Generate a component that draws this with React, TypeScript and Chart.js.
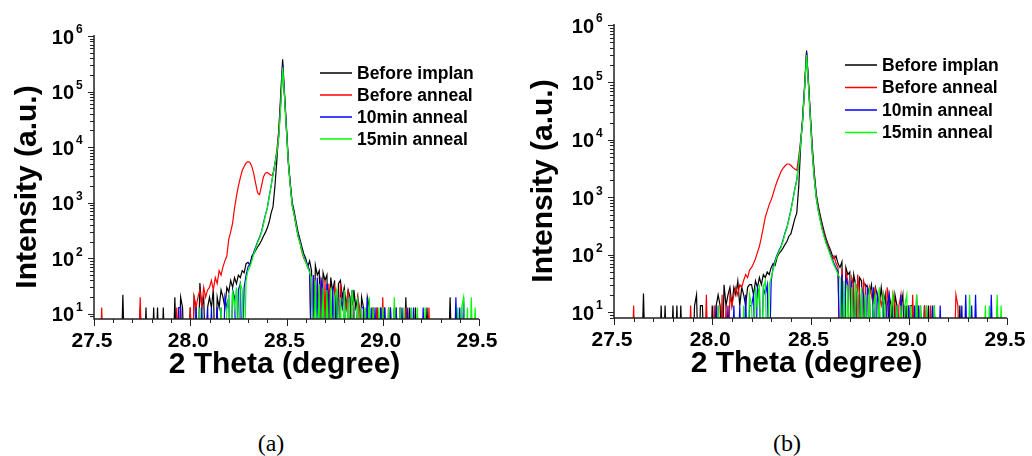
import React, { useEffect, useRef } from "react";
import { Chart, registerables } from "chart.js";

Chart.register(...registerables);

// 2-theta sampling grid (degree)
const THETA = [
  27.50, 27.51, 27.52, 27.53, 27.54, 27.55, 27.56, 27.57, 27.58, 27.59,
  27.60, 27.61, 27.62, 27.63, 27.64, 27.65, 27.66, 27.67, 27.68, 27.69,
  27.70, 27.71, 27.72, 27.73, 27.74, 27.75, 27.76, 27.77, 27.78, 27.79,
  27.80, 27.81, 27.82, 27.83, 27.84, 27.85, 27.86, 27.87, 27.88, 27.89,
  27.90, 27.91, 27.92, 27.93, 27.94, 27.95, 27.96, 27.97, 27.98, 27.99,
  28.00, 28.01, 28.02, 28.03, 28.04, 28.05, 28.06, 28.07, 28.08, 28.09,
  28.10, 28.11, 28.12, 28.13, 28.14, 28.15, 28.16, 28.17, 28.18, 28.19,
  28.20, 28.21, 28.22, 28.23, 28.24, 28.25, 28.26, 28.27, 28.28, 28.29,
  28.30, 28.31, 28.32, 28.33, 28.34, 28.35, 28.36, 28.37, 28.38, 28.39,
  28.40, 28.41, 28.42, 28.43, 28.44, 28.45, 28.46, 28.47, 28.48, 28.49,
  28.50, 28.51, 28.52, 28.53, 28.54, 28.55, 28.56, 28.57, 28.58, 28.59,
  28.60, 28.61, 28.62, 28.63, 28.64, 28.65, 28.66, 28.67, 28.68, 28.69,
  28.70, 28.71, 28.72, 28.73, 28.74, 28.75, 28.76, 28.77, 28.78, 28.79,
  28.80, 28.81, 28.82, 28.83, 28.84, 28.85, 28.86, 28.87, 28.88, 28.89,
  28.90, 28.91, 28.92, 28.93, 28.94, 28.95, 28.96, 28.97, 28.98, 28.99,
  29.00, 29.01, 29.02, 29.03, 29.04, 29.05, 29.06, 29.07, 29.08, 29.09,
  29.10, 29.11, 29.12, 29.13, 29.14, 29.15, 29.16, 29.17, 29.18, 29.19,
  29.20, 29.21, 29.22, 29.23, 29.24, 29.25, 29.26, 29.27, 29.28, 29.29,
  29.30, 29.31, 29.32, 29.33, 29.34, 29.35, 29.36, 29.37, 29.38, 29.39,
  29.40, 29.41, 29.42, 29.43, 29.44, 29.45, 29.46, 29.47, 29.48, 29.49,
  29.50,
];

// ---------- Panel (a) ----------
const A_BEFORE_IMPLAN = [
  1, 1, 1, 1, 1, 1, 1, 1, 1, 1,
  1, 1, 1, 1, 1, 22, 1, 1, 1, 1,
  1, 1, 1, 1, 13, 1, 1, 13, 1, 1,
  1, 13, 1, 13, 1, 1, 13, 1, 1, 1,
  1, 1, 20, 1, 1, 20, 13, 1, 1, 1,
  13, 1, 20, 13, 1, 36, 13, 20, 1, 13,
  20, 13, 28, 1, 20, 13, 27, 20, 13, 30,
  25, 40, 30, 45, 35, 50, 45, 60, 55, 80,
  85, 75, 110, 120, 140, 160, 180, 210, 250, 290,
  350, 450, 650, 850, 2000, 5900, 20000, 90000, 380000, 90000,
  22000, 5500, 2200, 1000, 700, 450, 300, 220, 160, 120,
  100, 70, 90, 60, 1, 75, 50, 60, 1, 55,
  40, 50, 1, 45, 25, 40, 1, 35, 40, 20,
  30, 13, 27, 20, 1, 27, 13, 20, 1, 20,
  13, 1, 20, 13, 1, 13, 1, 13, 1, 13,
  1, 13, 1, 1, 13, 1, 13, 1, 1, 13,
  1, 1, 20, 1, 13, 1, 1, 13, 1, 1,
  1, 1, 1, 13, 1, 1, 1, 1, 1, 1,
  1, 1, 1, 1, 1, 20, 1, 1, 1, 1,
  1, 1, 1, 1, 1, 1, 1, 1, 1, 1,
  1,
];
const A_BEFORE_ANNEAL = [
  1, 1, 1, 1, 13, 1, 1, 1, 1, 1,
  1, 1, 1, 1, 1, 1, 1, 1, 1, 1,
  1, 1, 1, 1, 20, 1, 1, 1, 1, 1,
  1, 1, 1, 1, 1, 1, 1, 1, 1, 1,
  1, 1, 1, 13, 1, 13, 1, 1, 1, 1,
  13, 1, 20, 13, 20, 27, 13, 30, 20, 27,
  30, 40, 27, 45, 35, 60, 50, 70, 90, 110,
  220, 300, 430, 800, 1300, 2000, 2800, 3800, 4500, 5200,
  5500, 5300, 4500, 3300, 2200, 1500, 1400, 2000, 2900, 3400,
  3500, 3300, 3100, 3200, 5000, 9000, 20000, 70000, 300000, 80000,
  20000, 5000, 2000, 900, 600, 380, 250, 190, 130, 100,
  85, 70, 60, 1, 50, 1, 40, 13, 45, 1,
  40, 1, 35, 13, 1, 30, 20, 1, 35, 13,
  20, 13, 27, 1, 20, 13, 1, 20, 13, 1,
  13, 1, 13, 1, 1, 13, 1, 13, 1, 1,
  20, 1, 1, 13, 1, 1, 1, 13, 1, 13,
  1, 1, 13, 1, 1, 1, 1, 1, 1, 1,
  1, 1, 1, 1, 13, 1, 1, 1, 1, 1,
  1, 1, 1, 1, 1, 1, 1, 1, 1, 1,
  1, 1, 1, 1, 1, 1, 1, 1, 1, 1,
  1,
];
const A_10MIN = [
  1, 1, 1, 1, 1, 1, 1, 1, 1, 1,
  1, 1, 1, 1, 1, 1, 1, 1, 1, 1,
  1, 1, 1, 1, 1, 1, 1, 1, 1, 1,
  1, 1, 1, 1, 1, 1, 1, 1, 1, 1,
  1, 1, 1, 1, 13, 13, 1, 1, 1, 1,
  1, 1, 1, 13, 1, 1, 13, 1, 1, 13,
  1, 13, 1, 1, 13, 1, 13, 1, 20, 13,
  20, 1, 27, 20, 1, 27, 35, 1, 30, 50,
  70, 80, 100, 130, 160, 200, 240, 300, 430, 600,
  800, 1300, 2000, 3300, 5000, 8000, 16000, 60000, 300000, 80000,
  20000, 5000, 2000, 900, 620, 400, 260, 200, 140, 110,
  90, 75, 60, 1, 50, 1, 45, 1, 40, 27,
  1, 35, 20, 1, 30, 1, 27, 1, 20, 13,
  27, 1, 20, 1, 27, 13, 1, 20, 1, 13,
  13, 1, 20, 1, 13, 1, 13, 1, 1, 13,
  1, 13, 1, 1, 13, 1, 1, 13, 1, 1,
  13, 1, 1, 13, 1, 1, 13, 1, 1, 1,
  1, 13, 1, 1, 1, 1, 1, 1, 1, 1,
  1, 1, 1, 1, 1, 1, 1, 1, 20, 1,
  13, 1, 20, 1, 1, 1, 1, 1, 1, 1,
  1,
];
const A_15MIN = [
  1, 1, 1, 1, 1, 1, 1, 1, 1, 1,
  1, 1, 1, 1, 1, 1, 1, 1, 1, 1,
  1, 1, 1, 1, 1, 1, 1, 1, 1, 1,
  1, 1, 1, 1, 1, 1, 1, 1, 1, 1,
  1, 1, 1, 1, 1, 1, 1, 1, 1, 1,
  1, 1, 1, 1, 1, 13, 1, 1, 1, 1,
  1, 1, 1, 1, 1, 1, 13, 1, 1, 13,
  20, 1, 27, 13, 30, 1, 35, 27, 1, 40,
  60, 70, 90, 120, 150, 190, 230, 290, 400, 580,
  780, 1250, 2000, 3200, 5000, 8000, 15000, 55000, 270000, 75000,
  19000, 5000, 1900, 880, 600, 390, 250, 190, 135, 105,
  85, 70, 55, 45, 1, 40, 1, 35, 1, 30,
  1, 27, 1, 30, 1, 20, 27, 1, 20, 1,
  27, 1, 20, 1, 27, 13, 1, 20, 1, 13,
  1, 13, 1, 20, 1, 13, 1, 1, 13, 1,
  13, 1, 1, 13, 1, 1, 20, 1, 1, 13,
  1, 13, 1, 1, 1, 13, 1, 1, 13, 1,
  1, 1, 13, 1, 1, 1, 1, 1, 1, 1,
  1, 1, 1, 1, 1, 1, 1, 1, 1, 13,
  1, 13, 20, 1, 13, 1, 20, 1, 13, 1,
  1,
];

// ---------- Panel (b) ----------
const B_BEFORE_IMPLAN = [
  1, 1, 1, 1, 1, 1, 1, 1, 1, 1,
  1, 1, 1, 1, 1, 21, 1, 1, 1, 1,
  1, 1, 1, 1, 13, 1, 13, 1, 1, 1,
  13, 1, 13, 1, 13, 1, 1, 1, 1, 1,
  1, 13, 20, 1, 13, 13, 1, 1, 1, 1,
  13, 1, 13, 20, 13, 1, 30, 13, 20, 27,
  13, 27, 20, 35, 13, 27, 20, 13, 27, 30,
  30, 20, 35, 27, 40, 30, 45, 40, 50, 45,
  60, 70, 65, 90, 105, 115, 130, 150, 170, 210,
  230, 310, 420, 530, 1500, 8000, 25000, 90000, 360000, 100000,
  25000, 7000, 2500, 1100, 700, 480, 340, 250, 190, 150,
  125, 100, 85, 95, 70, 60, 75, 1, 60, 45,
  50, 1, 45, 30, 1, 40, 35, 1, 30, 27,
  20, 30, 13, 27, 20, 13, 27, 13, 20, 1,
  20, 13, 1, 20, 13, 1, 13, 20, 1, 13,
  1, 13, 13, 1, 20, 1, 13, 1, 13, 1,
  13, 1, 1, 13, 1, 1, 1, 1, 1, 1,
  1, 1, 1, 1, 1, 1, 13, 1, 1, 1,
  1, 1, 1, 1, 1, 1, 1, 1, 1, 1,
  1, 1, 1, 1, 1, 1, 1, 1, 1, 1,
  1,
];
const B_BEFORE_ANNEAL = [
  1, 1, 1, 1, 1, 1, 1, 1, 1, 1,
  13, 1, 1, 1, 1, 1, 1, 1, 1, 1,
  1, 1, 1, 1, 1, 1, 1, 1, 1, 1,
  1, 1, 1, 1, 1, 1, 1, 1, 1, 13,
  1, 1, 1, 1, 1, 1, 1, 20, 1, 1,
  1, 13, 1, 13, 1, 20, 1, 13, 1, 20,
  13, 20, 27, 20, 30, 27, 36, 45, 40, 54,
  60, 70, 85, 110, 140, 200, 300, 450, 580, 750,
  900, 1150, 1500, 1900, 2300, 2800, 3200, 3500, 3800, 3800,
  3600, 3300, 3100, 2950, 5000, 10000, 22000, 80000, 330000, 90000,
  22000, 6000, 2200, 1000, 620, 430, 300, 230, 170, 140,
  110, 85, 95, 70, 60, 1, 55, 1, 50, 35,
  1, 40, 30, 1, 45, 20, 1, 35, 27, 1,
  27, 20, 13, 27, 1, 20, 13, 20, 1, 27,
  13, 1, 20, 13, 1, 13, 20, 1, 13, 1,
  13, 1, 20, 1, 1, 13, 1, 1, 13, 1,
  1, 13, 1, 1, 1, 1, 1, 1, 1, 1,
  1, 1, 1, 1, 20, 13, 1, 1, 1, 1,
  1, 1, 1, 1, 1, 1, 1, 1, 1, 1,
  1, 1, 1, 1, 1, 1, 1, 1, 1, 1,
  1,
];
const B_10MIN = [
  1, 1, 1, 1, 1, 1, 1, 1, 1, 1,
  1, 1, 1, 1, 1, 1, 1, 1, 1, 1,
  1, 1, 1, 1, 1, 1, 1, 1, 1, 1,
  1, 1, 1, 1, 1, 1, 1, 1, 1, 1,
  1, 1, 1, 1, 1, 1, 1, 1, 1, 1,
  1, 1, 13, 1, 1, 1, 1, 1, 13, 1,
  1, 13, 1, 1, 13, 1, 1, 20, 1, 13,
  13, 20, 1, 27, 20, 1, 27, 20, 30, 1,
  35, 60, 80, 100, 120, 140, 180, 240, 300, 420,
  600, 900, 1400, 2000, 4000, 9000, 22000, 80000, 330000, 90000,
  22000, 5500, 2000, 950, 580, 400, 280, 210, 160, 130,
  105, 85, 70, 60, 50, 1, 45, 1, 40, 30,
  1, 35, 1, 30, 20, 1, 27, 20, 1, 27,
  20, 1, 27, 1, 20, 13, 1, 20, 1, 13,
  20, 1, 13, 1, 13, 1, 20, 1, 13, 1,
  13, 1, 1, 13, 1, 13, 1, 1, 1, 13,
  1, 1, 13, 1, 1, 1, 13, 1, 1, 1,
  1, 1, 1, 1, 1, 1, 1, 13, 1, 20,
  1, 1, 13, 1, 20, 1, 1, 1, 1, 1,
  1, 1, 20, 1, 1, 13, 1, 1, 1, 1,
  1,
];
const B_15MIN = [
  1, 1, 1, 1, 1, 1, 1, 1, 1, 1,
  1, 1, 1, 1, 1, 1, 1, 1, 1, 1,
  1, 1, 1, 1, 1, 1, 1, 1, 1, 1,
  1, 1, 1, 1, 1, 1, 1, 1, 1, 1,
  1, 1, 1, 1, 1, 1, 1, 1, 1, 1,
  1, 1, 1, 13, 1, 1, 1, 1, 1, 1,
  1, 1, 1, 1, 1, 1, 13, 1, 1, 20,
  13, 1, 27, 13, 30, 1, 27, 35, 1, 30,
  40, 55, 75, 95, 115, 135, 170, 230, 290, 400,
  580, 870, 1350, 1950, 3900, 8800, 21000, 78000, 300000, 85000,
  21000, 5300, 1950, 930, 570, 390, 270, 200, 155, 125,
  100, 80, 65, 55, 45, 40, 1, 35, 1, 30,
  1, 27, 1, 30, 20, 1, 27, 1, 20, 1,
  27, 1, 13, 20, 1, 27, 1, 20, 13, 1,
  1, 13, 20, 1, 13, 1, 13, 1, 13, 20,
  1, 13, 1, 1, 20, 1, 13, 1, 1, 13,
  1, 1, 1, 13, 1, 1, 1, 1, 1, 1,
  1, 1, 1, 1, 1, 1, 1, 1, 1, 1,
  1, 20, 1, 1, 1, 1, 1, 1, 1, 13,
  1, 13, 1, 1, 1, 20, 1, 13, 1, 1,
  1,
];

const SERIES_LABELS = ["Before implan", "Before anneal", "10min anneal", "15min anneal"];
const SERIES_COLORS = ["#000000", "#ff0000", "#0000ff", "#00ff00"];
const X_MAJOR = [27.5, 28.0, 28.5, 29.0, 29.5];
const X_MAJOR_LABELS = ["27.5", "28.0", "28.5", "29.0", "29.5"];
const X_MINOR = [27.6, 27.7, 27.8, 27.9, 28.1, 28.2, 28.3, 28.4, 28.6, 28.7, 28.8, 28.9, 29.1, 29.2, 29.3, 29.4];
const Y_DECADES = [1, 2, 3, 4, 5, 6];
const Y_MINOR_MULT = [2, 3, 4, 5, 6, 7, 8, 9];
const X_TITLE = "2 Theta (degree)";
const Y_TITLE = "Intensity (a.u.)";

const SANS = '"Liberation Sans", Arial, sans-serif';

type Cfg = {
  top: number;
  right: number;
  yW: number;
  xH: number;
  ymin: number;
  legX: number;
  legY: number;
  legStep: number;
  xTitleShift: number;
};

const decor = {
  id: "decor",
  afterDatasetsDraw(chart: any, _args: any, o: Cfg) {
    const ctx = chart.ctx as CanvasRenderingContext2D;
    const { left, right, top, bottom } = chart.chartArea;
    const xs = chart.scales.x;
    const ys = chart.scales.y;
    ctx.save();
    ctx.strokeStyle = "#222";
    ctx.fillStyle = "#000";
    ctx.lineWidth = 1.5;
    ctx.beginPath();
    ctx.moveTo(left, top - 1);
    ctx.lineTo(left, bottom);
    ctx.lineTo(right, bottom);
    ctx.stroke();
    ctx.lineWidth = 1;
    // x ticks
    ctx.beginPath();
    X_MAJOR.forEach((v) => {
      const px = Math.round(xs.getPixelForValue(v)) + 0.5;
      ctx.moveTo(px, bottom);
      ctx.lineTo(px, bottom + 7);
    });
    X_MINOR.forEach((v) => {
      const px = Math.round(xs.getPixelForValue(v)) + 0.5;
      ctx.moveTo(px, bottom);
      ctx.lineTo(px, bottom + 4);
    });
    // y ticks
    const ymin = ys.min;
    Y_DECADES.forEach((d) => {
      const py = Math.round(ys.getPixelForValue(Math.pow(10, d))) + 0.5;
      ctx.moveTo(left, py);
      ctx.lineTo(left - 6, py);
    });
    [0, 1, 2, 3, 4, 5].forEach((d) => {
      Y_MINOR_MULT.forEach((m) => {
        const v = m * Math.pow(10, d);
        if (v < ymin || v > 1e6) return;
        const py = Math.round(ys.getPixelForValue(v)) + 0.5;
        ctx.moveTo(left, py);
        ctx.lineTo(left - 4, py);
      });
    });
    ctx.stroke();
    // x tick labels
    ctx.font = `bold 21px ${SANS}`;
    ctx.textAlign = "center";
    ctx.textBaseline = "alphabetic";
    X_MAJOR.forEach((v, i) => {
      ctx.fillText(X_MAJOR_LABELS[i], xs.getPixelForValue(v) - 2, bottom + 28);
    });
    // y tick labels
    Y_DECADES.forEach((d) => {
      const py = ys.getPixelForValue(Math.pow(10, d));
      ctx.font = `bold 20px ${SANS}`;
      ctx.textAlign = "right";
      ctx.textBaseline = "middle";
      ctx.fillText("10", left - 20, py + 2);
      ctx.font = `bold 12px ${SANS}`;
      ctx.textAlign = "left";
      ctx.fillText(String(d), left - 18, py - 6);
    });
    // titles
    ctx.font = `bold 30px ${SANS}`;
    ctx.textAlign = "center";
    ctx.textBaseline = "alphabetic";
    ctx.fillText(X_TITLE, (left + right) / 2 + o.xTitleShift, bottom + 54);
    ctx.save();
    ctx.translate(28, (top + bottom) / 2 + 9.5);
    ctx.rotate(-Math.PI / 2);
    ctx.textBaseline = "middle";
    ctx.fillText(Y_TITLE, 0, 0);
    ctx.restore();
    // legend
    ctx.font = `bold 17.5px ${SANS}`;
    ctx.textAlign = "left";
    ctx.textBaseline = "middle";
    SERIES_LABELS.forEach((lab, k) => {
      const y = o.legY + k * o.legStep;
      ctx.strokeStyle = SERIES_COLORS[k];
      ctx.lineWidth = 1.5;
      ctx.beginPath();
      ctx.moveTo(o.legX, y);
      ctx.lineTo(o.legX + 32, y);
      ctx.stroke();
      ctx.fillStyle = "#000";
      ctx.fillText(lab, o.legX + 37, y + 1);
    });
    ctx.restore();
  },
};

function Panel({ series, cfg, left }: { series: number[][]; cfg: Cfg; left: number }) {
  const ref = useRef<HTMLCanvasElement | null>(null);
  useEffect(() => {
    if (!ref.current) return;
    const chart = new Chart(ref.current, {
      type: "line",
      data: {
        datasets: series.map((s, k) => ({
          label: SERIES_LABELS[k],
          data: THETA.map((x, i) => ({ x, y: s[i] })),
          borderColor: SERIES_COLORS[k],
          backgroundColor: SERIES_COLORS[k],
          borderWidth: 1.2,
          pointRadius: 0,
          fill: false,
          tension: 0,
          order: 3 - k,
        })),
      },
      options: {
        animation: false,
        responsive: false,
        devicePixelRatio: 1,
        events: [],
        layout: { padding: { left: 0, top: cfg.top, right: cfg.right, bottom: 0 } },
        scales: {
          x: {
            type: "linear",
            min: 27.5,
            max: 29.5,
            ticks: { display: false },
            grid: { display: false },
            border: { display: false },
            afterFit: (s: any) => {
              s.height = cfg.xH;
            },
          },
          y: {
            type: "logarithmic",
            min: cfg.ymin,
            max: 1e6,
            ticks: { display: false },
            grid: { display: false },
            border: { display: false },
            afterFit: (s: any) => {
              s.width = cfg.yW;
            },
          },
        },
        plugins: {
          legend: { display: false },
          tooltip: { enabled: false },
          decor: cfg,
        } as any,
      },
      plugins: [decor as any],
    });
    return () => chart.destroy();
  }, []);
  return (
    <canvas
      ref={ref}
      width={516}
      height={400}
      style={{ position: "absolute", left, top: 0, width: 516, height: 400 }}
    />
  );
}

const CFG_A: Cfg = { top: 36, right: 37, yW: 94, xH: 81, ymin: 8.1, legX: 320, legY: 73, legStep: 22, xTitleShift: -2 };
const CFG_B: Cfg = { top: 25, right: 25, yW: 98, xH: 82, ymin: 7.9, legX: 329, legY: 65, legStep: 22.5, xTitleShift: -4 };

export default function App() {
  const cap: React.CSSProperties = {
    position: "absolute",
    top: 430,
    width: 100,
    textAlign: "center",
    fontFamily: '"Liberation Serif", "Times New Roman", serif',
    fontSize: 24,
    lineHeight: "26px",
    color: "#000",
  };
  return (
    <div style={{ position: "fixed", left: 0, top: 0, width: 1032, height: 456, background: "#fff", overflow: "hidden" }}>
      <Panel series={[A_BEFORE_IMPLAN, A_BEFORE_ANNEAL, A_10MIN, A_15MIN]} cfg={CFG_A} left={0} />
      <Panel series={[B_BEFORE_IMPLAN, B_BEFORE_ANNEAL, B_10MIN, B_15MIN]} cfg={CFG_B} left={516} />
      <div style={{ ...cap, left: 221 }}>(a)</div>
      <div style={{ ...cap, left: 737 }}>(b)</div>
    </div>
  );
}
